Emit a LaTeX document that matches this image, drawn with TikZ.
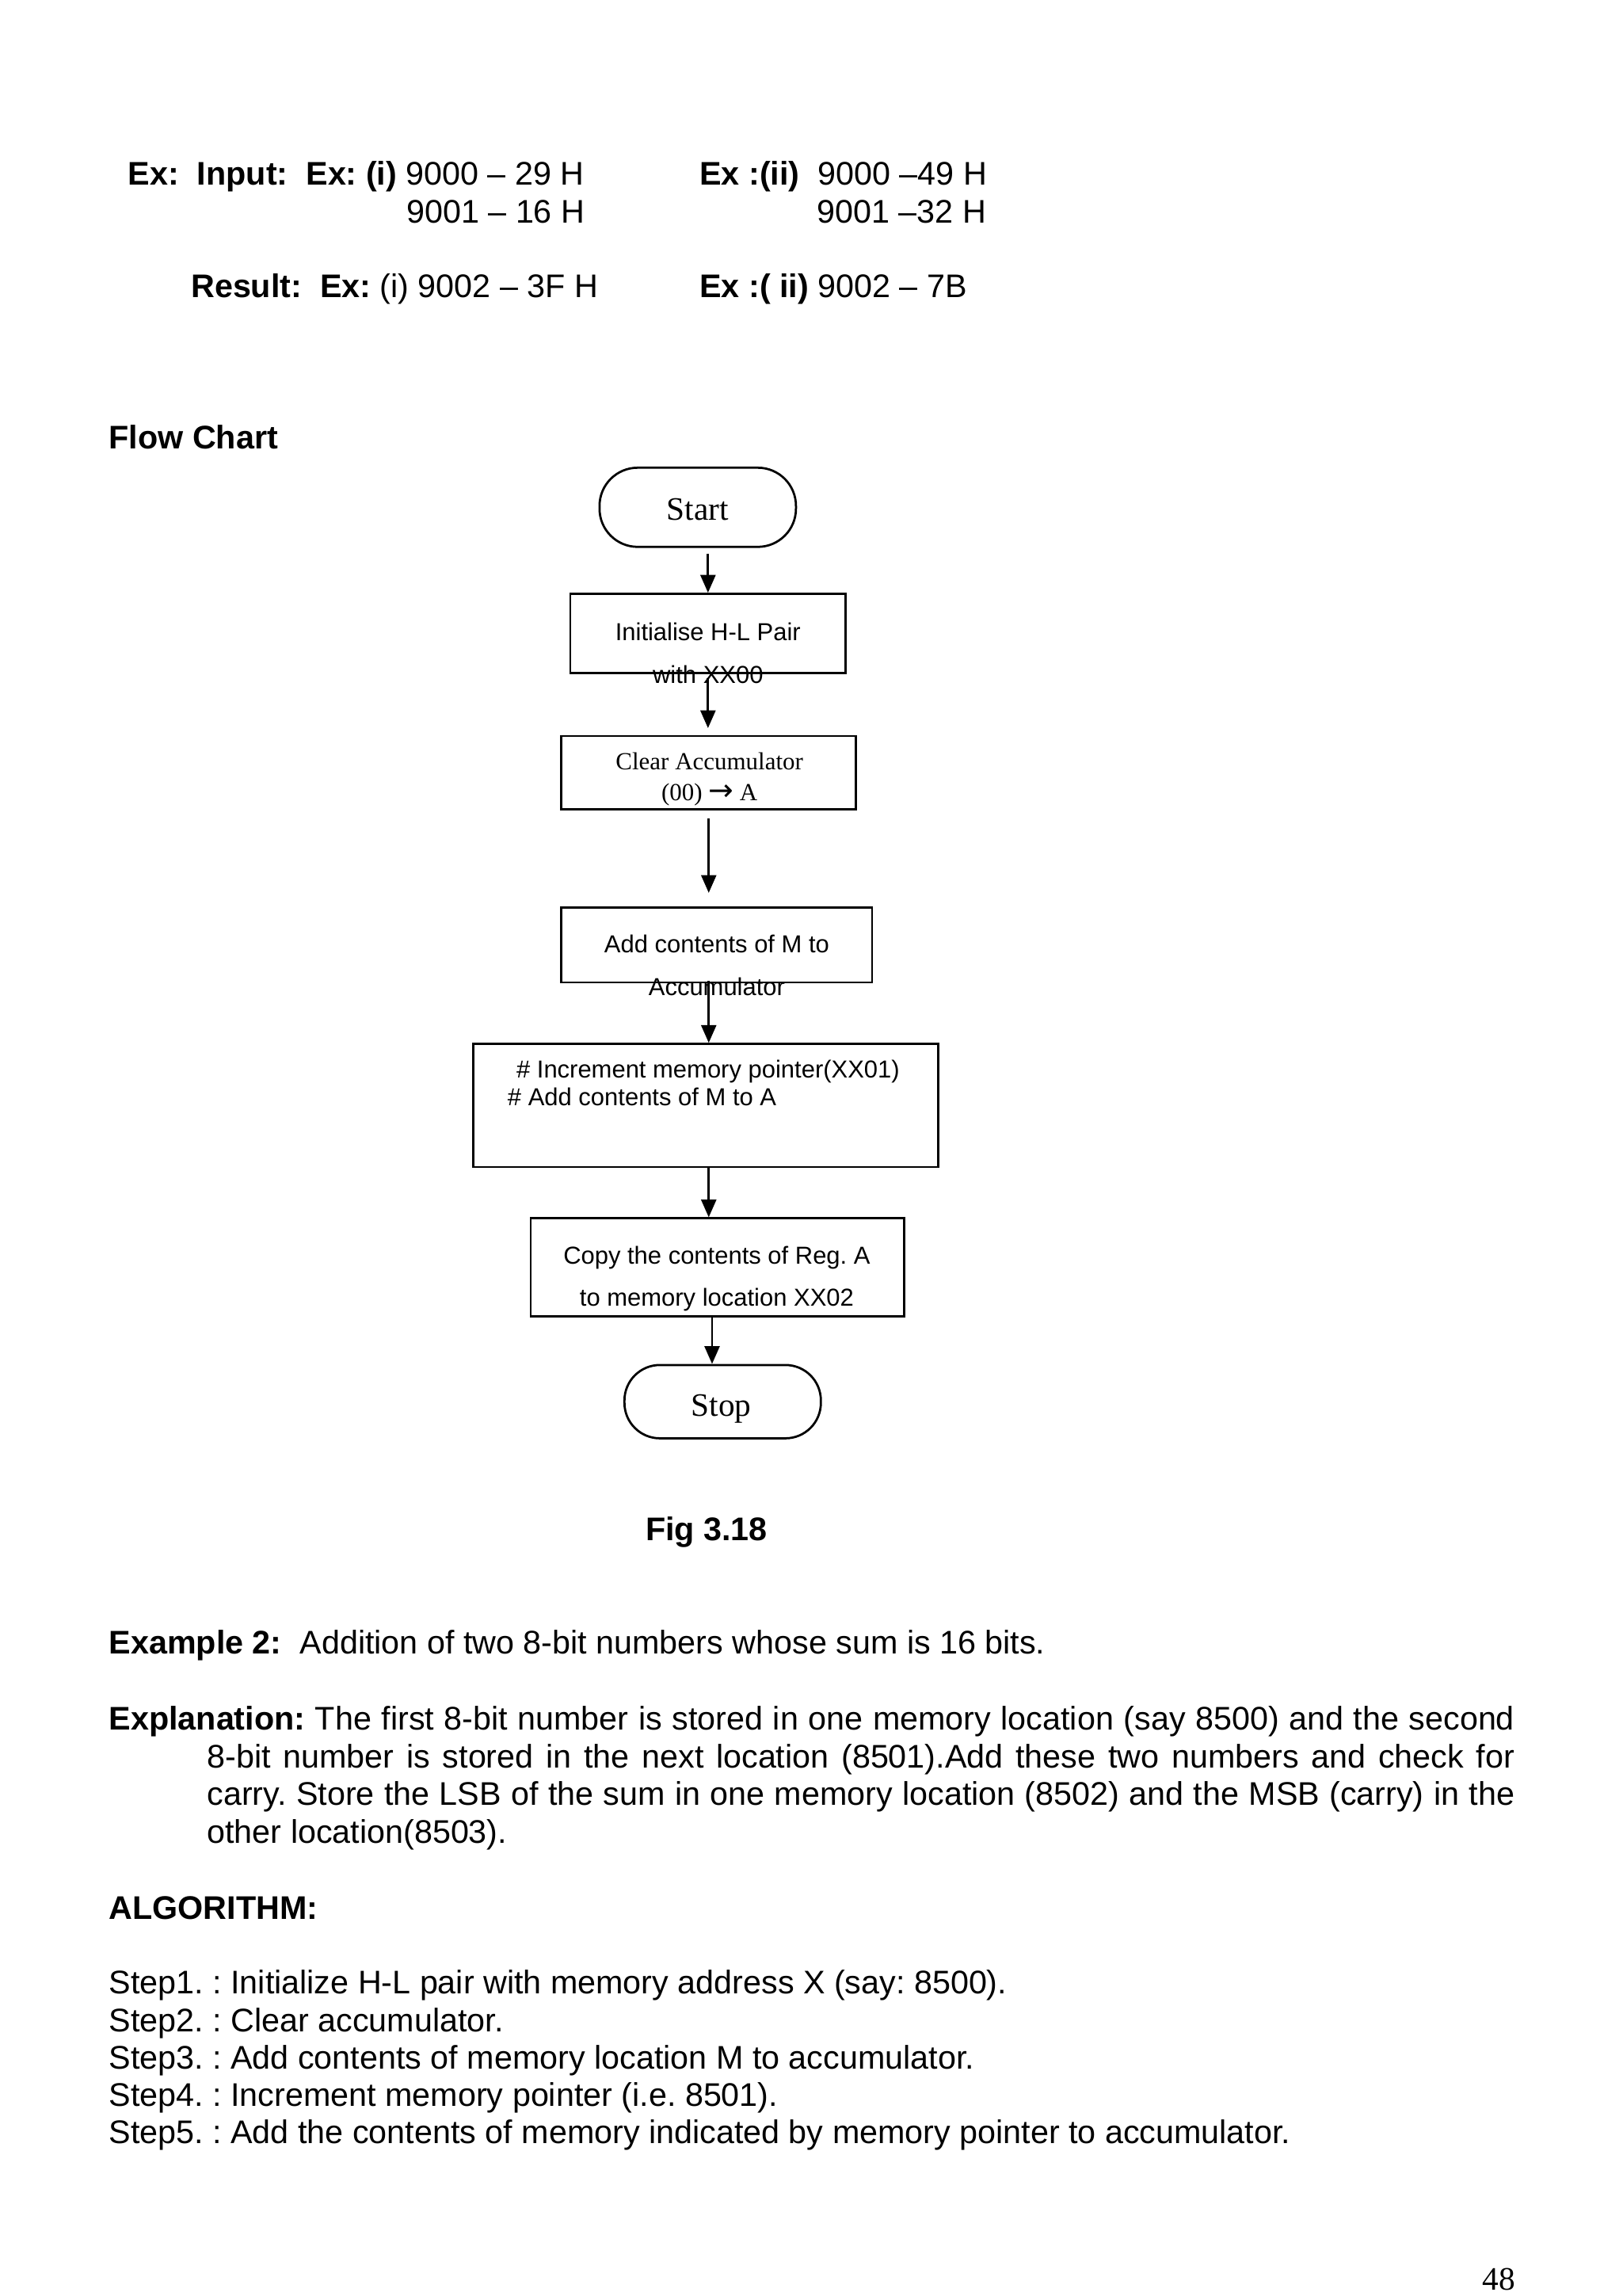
\documentclass[tikz,border=0pt]{standalone}
\usepackage{fontspec}
\setmainfont{Liberation Sans}
\newfontfamily\tnr{Liberation Serif}
\newfontfamily\djv{DejaVu Sans}
\usetikzlibrary{arrows.meta,fit}
\frenchspacing

\begin{document}
\begin{tikzpicture}[x=0.5378pt,y=-0.5378pt,
    box/.style={draw, line width=0.8pt, inner sep=0pt},
    term/.style={box, rounded corners=14pt},
    arr/.style={line width=0.8pt, -{Triangle[width=5.5pt,length=6.5pt]}},
    txt/.style={font=\fontsize{12}{13.8}\selectfont, anchor=base west, inner sep=0pt},
    fc/.style={font=\fontsize{9}{10.8}\selectfont, anchor=base, inner sep=0pt},
    fct/.style={font=\tnr\fontsize{9}{10.8}\selectfont, anchor=base, inner sep=0pt}]

    \useasboundingbox (0,0) rectangle (1107,1566);

    %examples
    \node[txt] (inpi) at (87,126) {\textbf{Ex:\ \ Input:\ \ Ex: (i)} 9000 – 29 H};
    \node[txt] (inpib) at (277,152) {9001 – 16 H};
    \node[txt] (inpii) at (477,126) {\textbf{Ex :(ii)}\ \ 9000 –49 H};
    \node[txt] (inpiib) at (557,152) {9001 –32 H};
    \node[txt] (resi) at (130,203) {\textbf{Result:\ \ Ex:} (i) 9002 – 3F H};
    \node[txt] (resii) at (477,203) {\textbf{Ex :( ii)} 9002 – 7B};
    \node[txt] (flow) at (74,306) {\textbf{Flow Chart}};

    %boxes
    \node[term, fit={(409,319) (543,373)}] (start) {};
    \node[box, fit={(389,405) (577,459)}] (init) {};
    \node[box, fit={(383,502) (584,552)}] (clear) {};
    \node[box, fit={(383,619) (595,670)}] (add) {};
    \node[box, fit={(323,712) (640,796)}] (incr) {};
    \node[box, fit={(362,831) (617,898)}] (copy) {};
    \node[term, rounded corners=13pt, fit={(426,931) (560,981)}] (stop) {};

    %box texts
    \node[fct, font=\tnr\fontsize{12}{14}\selectfont] (startt) at (476,355) {Start};
    \node[fc] (initt) at (483,437) {Initialise H-L Pair};
    \node[fc] (initb) at (483,466) {with XX00};
    \node[fct] (cleart) at (484,525) {Clear Accumulator};
    \node[fct] (clearb) at (484,546) {(00) {\djv\fontsize{11}{11}\selectfont →} A};
    \node[fc] (addt) at (489,650) {Add contents of M to};
    \node[fc] (addb) at (489,679) {Accumulator};
    \node[fc, anchor=base west] (incrt) at (352,735) {\# Increment memory pointer(XX01)};
    \node[fc, anchor=base west] (incrb) at (346,754) {\# Add contents of M to A};
    \node[fc] (copyt) at (489,862) {Copy the contents of Reg. A};
    \node[fc] (copyb) at (489,891) {to memory location XX02};
    \node[fct, font=\tnr\fontsize{12}{14}\selectfont] (stopt) at (492,966) {Stop};

    %arrows
    \draw[arr] ([yshift=-2pt]init.north |- start.south) -- (init.north);
    \draw[arr] ([yshift=-1.5pt]init.south) -- ([yshift=2.5pt]clear.north -| init.south);
    \draw[arr] ([yshift=-3pt]clear.south) -- ([yshift=5pt]add.north -| clear.south);
    \draw[arr] ([yshift=1pt]add.south -| clear.south) -- (incr.north -| clear.south);
    \draw[arr] (incr.south -| clear.south) -- (copy.north -| clear.south);
    \draw[arr] ([xshift=-2pt]copy.south) -- ([xshift=-2pt]stop.north -| copy.south);

    \node[txt, anchor=base] (fig) at (482,1051) {\textbf{Fig 3.18}};

    %text below
    \node[txt] (ex2) at (74,1128) {\textbf{Example 2:}\ \ Addition of two 8-bit numbers whose sum is 16 bits.};
    \node[txt, text width=515.7pt, align=justify] (expl) at (74,1180) {\hangindent=36pt\hangafter=1
        \textbf{Explanation:} The first 8-bit number is stored in one memory location (say 8500) and the second\linebreak
        8-bit number is stored in the next location (8501).Add these two numbers and check for\linebreak
        carry. Store the LSB of the sum in one memory location (8502) and the MSB (carry) in the\linebreak
        other location(8503).\par};
    \node[txt] (algo) at (74,1309) {\textbf{ALGORITHM:}};
    \node[txt] (st1) at (74,1360) {Step1. : Initialize H-L pair with memory address X (say: 8500).};
    \node[txt] (st2) at (74,1385.5) {Step2. : Clear accumulator.};
    \node[txt] (st3) at (74,1411) {Step3. : Add contents of memory location M to accumulator.};
    \node[txt] (st4) at (74,1436.5) {Step4. : Increment memory pointer (i.e. 8501).};
    \node[txt] (st5) at (74,1462) {Step5. : Add the contents of memory indicated by memory pointer to accumulator.};

    \node[font=\tnr\fontsize{12}{14}\selectfont, anchor=base east, inner sep=0pt] (page) at (1034,1562) {48};

\end{tikzpicture}
\end{document}
